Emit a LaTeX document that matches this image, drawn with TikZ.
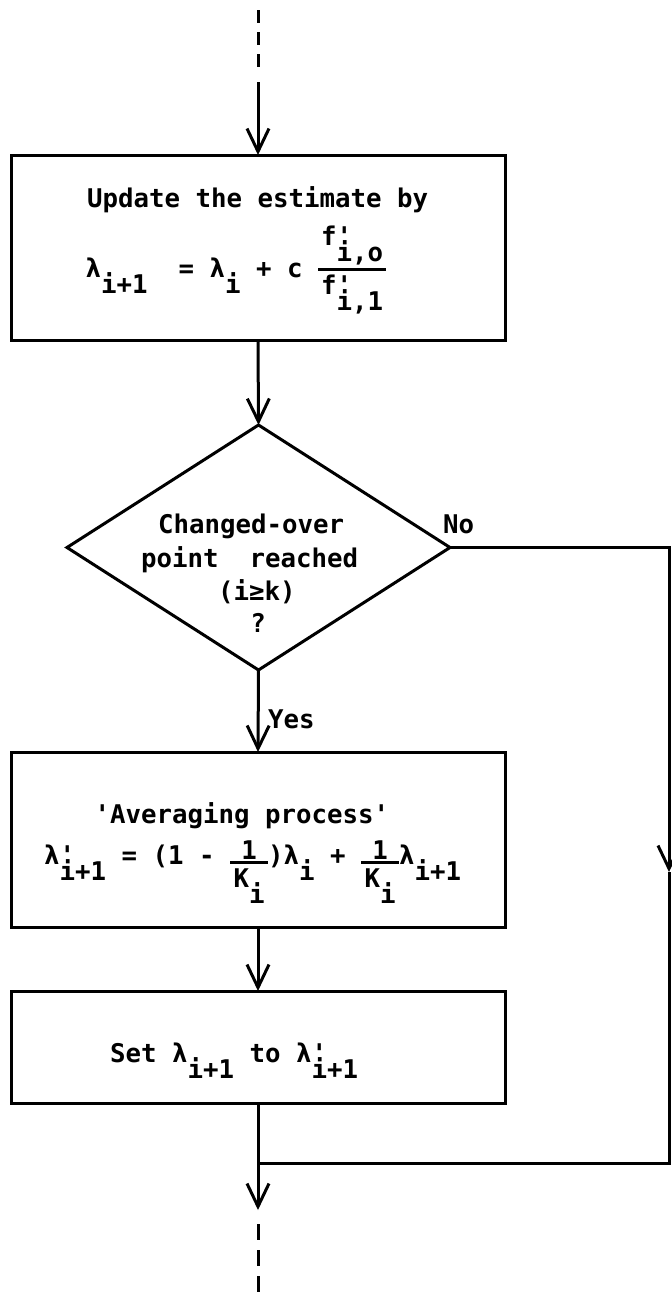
\documentclass[tikz,border=0pt]{standalone}
\usepackage{fontspec}
\newfontfamily\tw{DejaVu Sans Mono Bold}
\usetikzlibrary{arrows.meta,shapes.geometric}

% typed half-line shift for subscripts
\newcommand\dn[1]{\raisebox{-16pt}{#1}}
% prime that sits over the following subscript
\newcommand\pr{\rlap{'}}
% typed fraction: num, den, bar width, num raise, bar raise, den lower
\newcommand\fracbox[6]{\rlap{\makebox[#3]{\raisebox{#4}{#1}}}\rlap{\rule[#5]{#3}{2.6pt}}\makebox[#3]{\raisebox{-#6}{#2}}}

\begin{document}
\begin{tikzpicture}[x=1pt,y=-1pt,
  line width=3pt,
  box/.style={draw, rectangle, minimum width=494pt, inner sep=0pt, outer sep=0pt},
  decision/.style={draw, diamond, minimum width=383pt, minimum height=245pt, inner sep=0pt, outer sep=0pt},
  flow/.style={-{Straight Barb[length=23pt,width=22pt]}},
  dashline/.style={dash pattern=on 13pt off 9pt},
  txt/.style={font=\tw\fontsize{25.75pt}{33pt}\selectfont, anchor=base west, inner sep=0pt, outer sep=0pt},
]
\useasboundingbox (0,0) rectangle (672,1294);

% boxes and decision
\node[box, minimum height=185pt] (b1) at (258,247.5) {};
\node[decision] (d) at (258.5,547.5) {};
\node[box, minimum height=175pt] (b2) at (258,839.5) {};
\node[box, minimum height=112pt] (b3) at (258,1047) {};

% texts
\node[txt] (t1) at (87,207) {Update the estimate by};
\node[txt] (t2) at (85.5,277) {λ\dn{i+1}~~=~λ\dn{i}~+~c~\fracbox{f\pr\dn{i,o}}{f\pr\dn{i,1}}{68pt}{32pt}{6pt}{17pt}};

\node[txt] (q1) at (158,533) {Changed-over};
\node[txt] (q2) at (141,567) {point~~reached};
\node[txt] (q3) at (218,600) {(i≥k)};
\node[txt, anchor=base] (q4) at (258,632) {?};

\node[txt] (a1) at (94.5,823) {'Averaging process'};
\node[txt] (a2) at (44,864) {λ\pr\dn{i+1}~=~(1~-~\fracbox{1}{K\dn{i}}{38pt}{5pt}{0pt}{23pt})λ\dn{i}~+~\fracbox{1}{K\dn{i}}{38pt}{5pt}{0pt}{23pt}λ\dn{i+1}};

\node[txt] (s3) at (110,1062) {Set~λ\dn{i+1}~to~λ\pr\dn{i+1}};

\node[txt] (yes) at (268,728) {Yes};
\node[txt] (no) at (443,533) {No};

% connector points
\coordinate (s0) at (258,10);
\coordinate (s1) at (258,70);
\coordinate (s2) at (258,82);
\path (d.east) ++(219,0) coordinate (r1);
\coordinate (rm) at (669,872);
\coordinate (r2) at (669,1163);
\coordinate (jn) at (258,1163);
\coordinate (e1) at (258,1210);
\coordinate (e2) at (258,1224);
\coordinate (e3) at (258,1294);

% connectors
\draw[dashline] (s0) -- (s1);
\draw[flow] (s2) -- (b1.north);
\draw[flow] (b1.south) -- (d.north);
\draw[flow] (d.south) -- (b2.north);
\draw[flow] (b2.south) -- (b3.north);
\draw[flow] (d.east) -- (r1) -- (rm);
\draw (rm) -- (r2) -- (jn);
\draw[flow] (b3.south) -- (e1);
\draw[dash pattern=on 16pt off 10pt] (e2) -- (e3);
\end{tikzpicture}
\end{document}
